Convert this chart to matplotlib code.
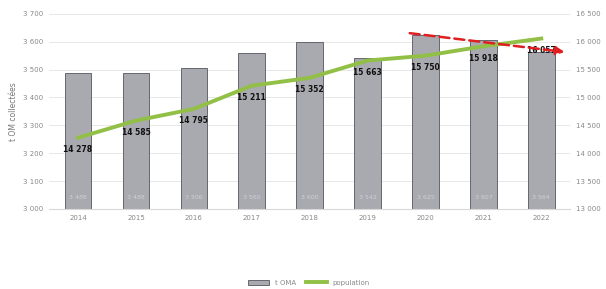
import matplotlib.pyplot as plt
import numpy as np

# data
years = ['2014', '2015', '2016', '2017', '2018', '2019', '2020', '2021', '2022']
tonnes = [3488, 3488, 3506, 3560, 3600, 3542, 3625, 3607, 3564]
population = [14278, 14585, 14795, 15211, 15352, 15663, 15750, 15918, 16057]
left_ticks = [3000, 3100, 3200, 3300, 3400, 3500, 3600, 3700]
right_ticks = [13000, 13500, 14000, 14500, 15000, 15500, 16000, 16500]


def fmt(v):
    return f'{v:,}'.replace(',', ' ')


x = np.arange(len(years))

fig = plt.figure(figsize=(6.06, 2.89), dpi=100)
ax = fig.add_axes([0.081, 0.277, 0.86, 0.675])
ax2 = ax.twinx()

bars = ax.bar(x, tonnes, width=0.46, color='#a9a9b0', edgecolor='#55555e',
              linewidth=0.6, label='t OMA', zorder=2)
ax.set_ylim(3000, 3700)
ax.set_xlim(-0.5, len(years) - 0.5)
ax.set_yticks(left_ticks)
ax.set_yticklabels([fmt(t) for t in left_ticks])
ax.set_xticks(x)
ax.set_xticklabels(years)
ax.grid(axis='y', color='#e4e4e4', linewidth=0.6, zorder=0)
ax.set_axisbelow(True)
ax.set_ylabel('t OM collectées', fontsize=5.5, color='#777777', labelpad=4)

for xi, v in zip(x, tonnes):
    ax.text(xi, 3040, fmt(v), ha='center', va='center', fontsize=4.5,
            color='#d0d0d8', zorder=3)

line, = ax2.plot(x, population, color='#92c047', linewidth=2.8,
                 label='population', zorder=4)
ax2.set_ylim(13000, 16500)
ax2.set_yticks(right_ticks)
ax2.set_yticklabels([fmt(t) for t in right_ticks])

for xi, v in zip(x, population):
    ax2.text(xi, v - 210, fmt(v), ha='center', va='center', fontsize=5.5,
             fontweight='bold', color='#111111', zorder=5)

# red dashed arrow drawn over the chart
ax2.annotate('', xy=(8.45, 15810), xytext=(5.68, 16160),
             arrowprops=dict(arrowstyle='-|>', color='#e02020', lw=1.8,
                             linestyle=(0, (4, 2)), mutation_scale=12),
             annotation_clip=False, zorder=6)

for a in (ax, ax2):
    for s in a.spines.values():
        s.set_visible(False)
    a.tick_params(length=0, labelsize=5, labelcolor='#888888', pad=4)
ax.spines['bottom'].set_visible(True)
ax.spines['bottom'].set_color('#d8d8d8')

fig.legend(handles=[bars, line], labels=['t OMA', 'population'],
           loc='lower center', bbox_to_anchor=(0.51, -0.01), ncol=2,
           frameon=False, fontsize=5, labelcolor='#888888',
           handlelength=3, columnspacing=1.5)

fig.savefig('out.png', dpi=100)
